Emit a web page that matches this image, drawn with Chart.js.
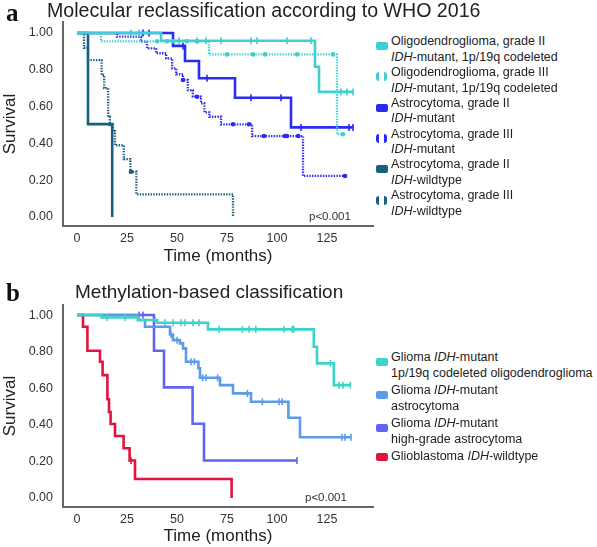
<!DOCTYPE html>
<html>
<head>
<meta charset="utf-8">
<script src="https://cdn.jsdelivr.net/npm/chart.js@4/dist/chart.umd.min.js"></script>
<style>
  html, body { margin: 0; padding: 0; background: #fff; overflow: hidden; }
  body { width: 597px; height: 547px; position: relative; font-family: "Liberation Sans", Arial, sans-serif; color: #222; }
  canvas { position: absolute; left: 0; }
  .txt { position: absolute; white-space: nowrap; z-index: 2; }
  .panel { font-family: "Liberation Serif", "Times New Roman", serif; font-weight: bold; font-size: 25px; color: #111; }
  .title { font-size: 19px; color: #222; }
  .pval { font-size: 11.5px; color: #333; }
  .leg { position: absolute; left: 391px; font-size: 12.5px; line-height: 15.5px; white-space: nowrap; color: #222; z-index: 2; }
  .sw { position: absolute; left: 376px; width: 12px; height: 8px; border-radius: 2px; z-index: 2; }
  .sw.dot { background: transparent !important; width: 5px; height: 9px; border-left: 3px solid; border-right: 3px solid; border-radius: 3px; }
</style>
</head>
<body>
<div class="txt panel" style="left:6px; top:-1px;">a</div>
<div class="txt title" style="left:47px; top:-1px; font-size:19.6px;">Molecular reclassification according to WHO 2016</div>
<div class="txt panel" style="left:6px; top:279px;">b</div>
<div class="txt title" style="left:75px; top:281px;">Methylation-based classification</div>
<div class="txt pval" style="left:309px; top:210px;">p&lt;0.001</div>
<div class="txt pval" style="left:305px; top:491px;">p&lt;0.001</div>
<canvas id="chart_a" width="380" height="270" style="top:0px"></canvas>
<canvas id="chart_b" width="380" height="270" style="top:277px"></canvas>
<div id="legend_box"></div>
<script>
// x axis / y axis ticks
let timeTicks = [0, 25, 50, 75, 100, 125]
let survTicks = [0, 0.2, 0.4, 0.6, 0.8, 1.0]

// ---- panel a : WHO 2016 ----
let oligo2Time = [0, 42, 119, 121, 138]
let oligo2Surv = [1, 0.958, 0.817, 0.68, 0.68]
let oligo2Cens = [27, 31, 51, 60, 64.5, 72, 87, 90, 105, 117, 132, 135, 138]

let oligo3Time = [0, 12, 66, 130, 133]
let oligo3Surv = [1, 0.955, 0.884, 0.45, 0.45]
let oligo3Cens = [40, 45, 48, 55, 60, 75, 88, 94, 110, 128, 133]

let astro2Time = [0, 48, 54, 61, 79, 107, 138]
let astro2Surv = [1, 0.93, 0.848, 0.754, 0.648, 0.487, 0.487]
let astro2Cens = [33, 36, 53, 65, 87, 102, 112, 136, 138]

let astro3Time = [0, 20, 32, 35, 39.6, 44.6, 47.6, 49.6, 53, 55.4, 57.9, 62, 63.7, 66.2, 72, 87.6, 113, 134]
let astro3Surv = [1, 0.98, 0.953, 0.917, 0.89, 0.862, 0.808, 0.776, 0.745, 0.69, 0.654, 0.618, 0.569, 0.545, 0.504, 0.44, 0.223, 0.223]
let astro3Cens = [53, 60, 78, 86, 93.5, 104, 105, 110.6, 134]

let wt2Time = [0, 5.5, 17.6]
let wt2Surv = [1, 0.505, 0]

let wt3Time = [0, 3.5, 5.5, 12.3, 13.6, 15.6, 16.4, 18, 19, 23.4, 26.7, 29.7, 78]
let wt3Surv = [1, 0.92, 0.853, 0.772, 0.70, 0.545, 0.50, 0.467, 0.39, 0.315, 0.246, 0.123, 0]
let wt3Cens = [27]

// ---- panel b : methylation ----
let codelTime = [0, 12.3, 30.5, 40, 65.5, 118.4, 120, 128.4, 136.7]
let codelSurv = [1, 0.987, 0.973, 0.958, 0.922, 0.827, 0.736, 0.617, 0.617]
let codelCens = [15, 24, 44, 48, 52, 54, 58, 61, 71, 82.7, 86, 89.4, 103.5, 107.6, 108.4, 126.7, 131, 133, 136.7]

let astroTime = [0, 30.5, 34, 46.5, 48, 51.5, 53, 54.5, 60.7, 61.5, 71.5, 78, 87, 105.7, 111.5, 137]
let astroSurv = [1, 0.973, 0.936, 0.894, 0.863, 0.845, 0.818, 0.745, 0.709, 0.657, 0.617, 0.572, 0.526, 0.439, 0.332, 0.332]
let astroCens = [47, 50, 57, 58.7, 62.8, 64.5, 70.3, 85.2, 92.7, 101, 102.6, 132.5, 134, 137]

let highTime = [0, 38.5, 43.5, 57.8, 63.5, 110]
let highSurv = [1, 0.805, 0.605, 0.406, 0.205, 0.205]
let highCens = [31, 33, 110]

let gbmTime = [0, 3, 5.2, 11.5, 12.8, 15.2, 16, 16.8, 19, 23.3, 26.3, 29, 77.3]
let gbmSurv = [1, 0.936, 0.805, 0.745, 0.672, 0.54, 0.47, 0.405, 0.339, 0.272, 0.205, 0.104, 0]
let gbmCens = [27]

let legendA = [
  ['Oligodendroglioma, grade II', '<i>IDH</i>-mutant, 1p/19q codeleted'],
  ['Oligodendroglioma, grade III', '<i>IDH</i>-mutant, 1p/19q codeleted'],
  ['Astrocytoma, grade II', '<i>IDH</i>-mutant'],
  ['Astrocytoma, grade III', '<i>IDH</i>-mutant'],
  ['Astrocytoma, grade II', '<i>IDH</i>-wildtype'],
  ['Astrocytoma, grade III', '<i>IDH</i>-wildtype']
]
let legendB = [
  ['Glioma <i>IDH</i>-mutant', '1p/19q codeleted oligodendroglioma'],
  ['Glioma <i>IDH</i>-mutant', 'astrocytoma'],
  ['Glioma <i>IDH</i>-mutant', 'high-grade astrocytoma'],
  ['Glioblastoma <i>IDH</i>-wildtype']
]

const cyanA = '#3ECFD2'
const blueA = '#2B2BF2'
const tealA = '#17607E'
const cyanB = '#3DD3C8'
const blueB = '#5B9BE8'
const violetB = '#6262F4'
const redB = '#E0143C'

function survAt(times, surv, t) {
  let s = surv[0]
  for (let i = 0; i < times.length; i++) {
    if (times[i] <= t) s = surv[i]
  }
  return s
}

function kmLine(times, surv, color, dotted) {
  return {
    data: times.map((t, i) => ({ x: t, y: surv[i] })),
    borderColor: color,
    borderWidth: dotted ? 2.3 : 2.6,
    borderDash: dotted ? [1.4, 1.3] : [],
    borderCapStyle: 'butt',
    stepped: true,
    pointRadius: 0,
    fill: false
  }
}

function kmCensor(times, surv, cens, color, dotted) {
  return {
    data: cens.map(t => ({ x: t, y: survAt(times, surv, t) })),
    showLine: false,
    pointStyle: dotted ? 'circle' : 'line',
    rotation: 90,
    pointRadius: dotted ? 2.3 : 3.5,
    pointBorderWidth: dotted ? 0 : 1.6,
    borderColor: color,
    backgroundColor: color
  }
}

function makeOptions(yTop, yBottom, xHeight, titlePad) {
  return {
    responsive: false,
    animation: false,
    layout: { padding: { top: 22 + yTop, right: 7, bottom: 0, left: 0 } },
    plugins: { legend: { display: false }, tooltip: { enabled: false } },
    scales: {
      x: {
        type: 'linear',
        min: -7, max: 148,
        afterFit: s => { s.height = xHeight },
        afterBuildTicks: s => { s.ticks = timeTicks.map(v => ({ value: v })) },
        grid: { display: false, drawTicks: false },
        border: { display: true, color: '#666', width: 2 },
        ticks: { padding: 5, color: '#333', font: { size: 12.5, family: 'Liberation Sans' } },
        title: { display: true, text: 'Time (months)', color: '#222', padding: { top: 0, bottom: titlePad }, font: { size: 17, family: 'Liberation Sans' } }
      },
      y: {
        min: yBottom, max: yTop === 0 ? 1.06 : 1.055,
        afterFit: s => { s.width = 63 },
        afterBuildTicks: s => { s.ticks = survTicks.map(v => ({ value: v })) },
        grid: { display: false, drawTicks: false },
        border: { display: true, color: '#666', width: 2 },
        ticks: { padding: 10, color: '#333', font: { size: 12.5, family: 'Liberation Sans' }, callback: v => v.toFixed(2) },
        title: { display: true, text: 'Survival', color: '#222', padding: { top: 0, bottom: 0 }, font: { size: 17, family: 'Liberation Sans' } }
      }
    }
  }
}

new Chart(document.getElementById('chart_a'), {
  type: 'line',
  data: {
    datasets: [
      kmCensor(oligo2Time, oligo2Surv, oligo2Cens, cyanA, false),
      kmLine(oligo2Time, oligo2Surv, cyanA, false),
      kmCensor(oligo3Time, oligo3Surv, oligo3Cens, cyanA, true),
      kmLine(oligo3Time, oligo3Surv, cyanA, true),
      kmCensor(astro2Time, astro2Surv, astro2Cens, blueA, false),
      kmLine(astro2Time, astro2Surv, blueA, false),
      kmCensor(astro3Time, astro3Surv, astro3Cens, blueA, true),
      kmLine(astro3Time, astro3Surv, blueA, true),
      kmLine(wt2Time, wt2Surv, tealA, false),
      kmCensor(wt3Time, wt3Surv, wt3Cens, tealA, true),
      kmLine(wt3Time, wt3Surv, tealA, true)
    ]
  },
  options: makeOptions(0, -0.049, 44, 3.5)
})

new Chart(document.getElementById('chart_b'), {
  type: 'line',
  data: {
    datasets: [
      kmCensor(codelTime, codelSurv, codelCens, cyanB, false),
      kmLine(codelTime, codelSurv, cyanB, false),
      kmCensor(astroTime, astroSurv, astroCens, blueB, false),
      kmLine(astroTime, astroSurv, blueB, false),
      kmCensor(highTime, highSurv, highCens, violetB, false),
      kmLine(highTime, highSurv, violetB, false),
      kmCensor(gbmTime, gbmSurv, gbmCens, redB, false),
      kmLine(gbmTime, gbmSurv, redB, false)
    ]
  },
  options: makeOptions(6, -0.049, 40, 0)
})

// legends as html so the IDH part can be italic
let legend_box = document.querySelector('#legend_box')
function addLegend(items, colors, dotted, firstY, step) {
  items.forEach((lines, i) => {
    let cy = firstY + i * step
    let div = document.createElement('div')
    div.className = 'leg'
    div.style.top = (cy - 7.75) + 'px'
    div.innerHTML = lines.join('<br>')
    legend_box.appendChild(div)
    let sw = document.createElement('div')
    sw.className = dotted[i] ? 'sw dot' : 'sw'
    sw.style.background = colors[i]
    sw.style.borderColor = colors[i]
    let off = lines.length > 1 ? 4 : 0
    sw.style.top = (cy + off - (dotted[i] ? 4.5 : 4)) + 'px'
    legend_box.appendChild(sw)
  })
}
addLegend(legendA, [cyanA, cyanA, blueA, blueA, tealA, tealA], [false, true, false, true, false, true], 42, 30.8)
addLegend(legendB, [cyanB, blueB, violetB, redB], [false, false, false, false], 358, 33)
</script>
</body>
</html>
